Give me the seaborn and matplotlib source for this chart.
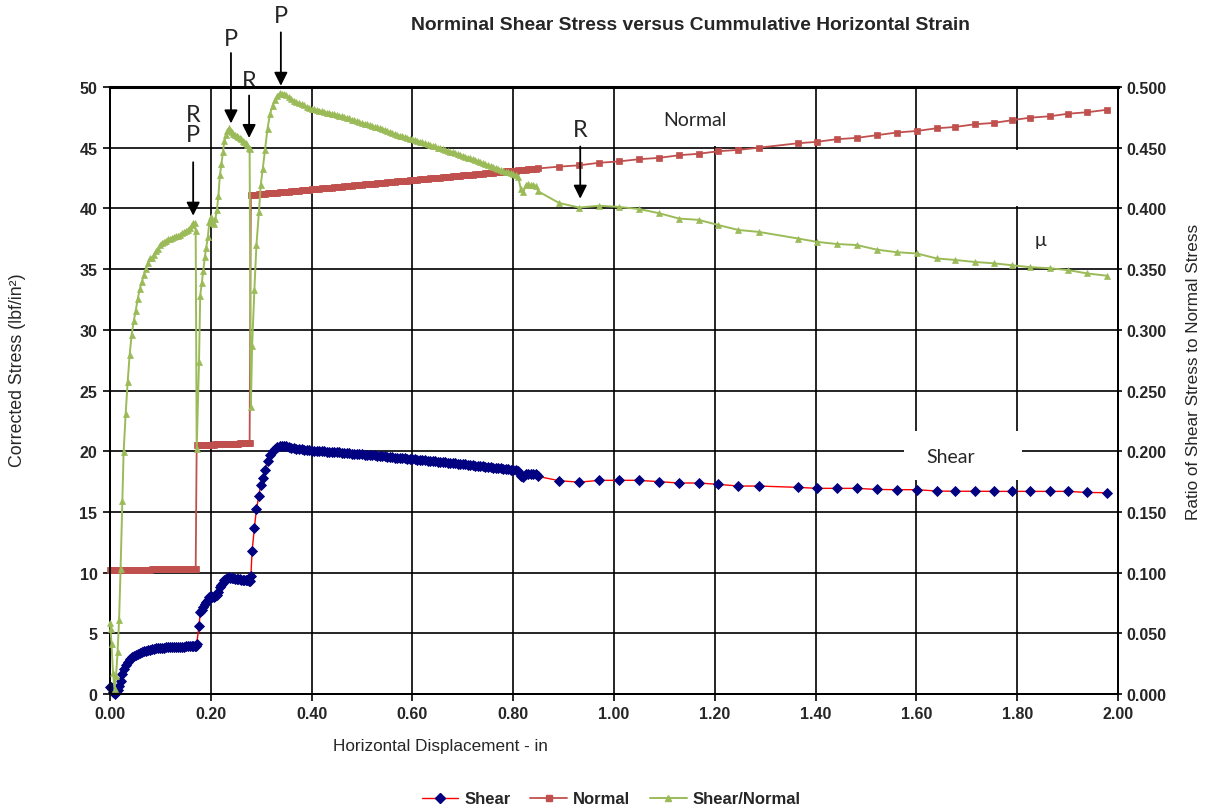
import matplotlib
matplotlib.use("Agg")
import matplotlib.pyplot as plt
from matplotlib.lines import Line2D
from matplotlib.patches import Rectangle
from matplotlib.ticker import FormatStrFormatter
import numpy as np
import pandas as pd
import seaborn as sns

# ---------------------------------------------------------------- data
# Stage 1: normal load ~10 lbf/in^2
disp_1 = [0.000, 0.001, 0.003, 0.006, 0.009, 0.012, 0.015, 0.018, 0.021, 0.0245,
          0.027, 0.031, 0.035, 0.039, 0.043, 0.047, 0.051, 0.055, 0.059, 0.063,
          0.067, 0.071, 0.075, 0.079, 0.083, 0.087, 0.091, 0.095, 0.099, 0.103,
          0.107, 0.111, 0.115, 0.119, 0.123, 0.127, 0.131, 0.135, 0.139, 0.143,
          0.147, 0.151, 0.155, 0.159, 0.162, 0.165, 0.168, 0.170]
shear_1 = [0.60, 0.55, 0.42, 0.18, 0.04, 0.15, 0.35, 0.62, 1.05, 1.62,
           2.03, 2.35, 2.62, 2.85, 3.02, 3.13, 3.22, 3.32, 3.40, 3.46,
           3.52, 3.57, 3.62, 3.66, 3.69, 3.72, 3.75, 3.77, 3.80, 3.82,
           3.83, 3.84, 3.85, 3.85, 3.86, 3.87, 3.88, 3.88, 3.89, 3.90,
           3.91, 3.92, 3.93, 3.95, 3.97, 3.99, 3.99, 3.92]
normal_1 = [10.20, 10.20, 10.20, 10.20, 10.20, 10.20, 10.20, 10.20, 10.20, 10.20,
            10.20, 10.20, 10.20, 10.20, 10.20, 10.20, 10.20, 10.20, 10.20, 10.20,
            10.20, 10.20, 10.20, 10.20, 10.28, 10.28, 10.28, 10.28, 10.28, 10.28,
            10.28, 10.28, 10.28, 10.28, 10.28, 10.28, 10.28, 10.28, 10.28, 10.28,
            10.28, 10.28, 10.28, 10.28, 10.28, 10.28, 10.28, 10.28]

# Stage 2: normal load ~20.5 lbf/in^2
disp_2 = [0.172, 0.1766, 0.179, 0.182, 0.185, 0.188, 0.191, 0.194, 0.197, 0.200,
          0.203, 0.206, 0.209, 0.212, 0.215, 0.218, 0.221, 0.224, 0.227, 0.230,
          0.233, 0.236, 0.239, 0.242, 0.245, 0.248, 0.251, 0.254, 0.257, 0.260,
          0.263, 0.266, 0.269, 0.272, 0.275, 0.277]
shear_2 = [4.14, 5.60, 6.73, 6.94, 7.15, 7.38, 7.55, 7.72, 7.98, 8.07,
           7.97, 7.95, 8.05, 8.19, 8.43, 8.79, 8.98, 9.18, 9.38, 9.48,
           9.55, 9.60, 9.58, 9.54, 9.52, 9.50, 9.48, 9.46, 9.45, 9.43,
           9.41, 9.39, 9.37, 9.35, 9.30, 9.28]
normal_2 = [20.50, 20.50, 20.51, 20.51, 20.52, 20.52, 20.53, 20.53, 20.54, 20.54,
            20.55, 20.55, 20.56, 20.56, 20.57, 20.57, 20.58, 20.58, 20.59, 20.59,
            20.60, 20.60, 20.61, 20.61, 20.62, 20.62, 20.63, 20.63, 20.64, 20.64,
            20.65, 20.65, 20.66, 20.66, 20.67, 20.67]

# Stage 3: normal load ~41 lbf/in^2, rising with area correction
disp_3 = [0.2795, 0.282, 0.2865, 0.2905, 0.2955, 0.299, 0.303, 0.3075, 0.3125, 0.3175,
          0.3225, 0.327, 0.332, 0.337, 0.341,
          0.345, 0.350, 0.355, 0.360, 0.365, 0.370, 0.375, 0.380, 0.385, 0.390,
          0.395, 0.400, 0.405, 0.410, 0.415, 0.420, 0.425, 0.430, 0.435, 0.440,
          0.445, 0.450, 0.455, 0.460, 0.465, 0.470, 0.475, 0.480, 0.485, 0.490,
          0.495, 0.500, 0.505, 0.510, 0.515, 0.520, 0.525, 0.530, 0.535, 0.540,
          0.545, 0.550, 0.555, 0.560, 0.565, 0.570, 0.575, 0.580, 0.585, 0.590,
          0.595, 0.600, 0.605, 0.610, 0.615, 0.620, 0.625, 0.630, 0.635, 0.640,
          0.645, 0.650, 0.655, 0.660, 0.665, 0.670, 0.675, 0.680, 0.685, 0.690,
          0.695, 0.700, 0.705, 0.710, 0.715, 0.720, 0.725, 0.730, 0.735, 0.740,
          0.745, 0.750, 0.755, 0.760, 0.765, 0.770, 0.775, 0.780, 0.785, 0.790,
          0.795, 0.800, 0.805, 0.810, 0.815, 0.820, 0.825, 0.830, 0.835, 0.840,
          0.845, 0.850]
shear_3 = [9.72, 11.80, 13.70, 15.20, 16.35, 17.25, 17.80, 18.45, 19.20, 19.70,
           20.00, 20.20, 20.35, 20.45, 20.44,
           20.43, 20.40, 20.34, 20.30, 20.25, 20.22, 20.18, 20.16, 20.12, 20.08,
           20.06, 20.03, 20.02, 20.01, 19.99, 20.00, 19.98, 19.96, 19.97, 19.94,
           19.93, 19.92, 19.90, 19.89, 19.88, 19.85, 19.84, 19.81, 19.80, 19.77,
           19.75, 19.73, 19.72, 19.70, 19.69, 19.66, 19.65, 19.63, 19.62, 19.60,
           19.58, 19.54, 19.52, 19.49, 19.47, 19.45, 19.43, 19.41, 19.40, 19.38,
           19.36, 19.34, 19.33, 19.30, 19.29, 19.27, 19.25, 19.22, 19.21, 19.19,
           19.17, 19.14, 19.13, 19.10, 19.08, 19.06, 19.04, 19.02, 19.00, 18.98,
           18.96, 18.94, 18.92, 18.89, 18.87, 18.85, 18.82, 18.80, 18.78, 18.75,
           18.72, 18.70, 18.68, 18.65, 18.62, 18.60, 18.58, 18.55, 18.52, 18.50,
           18.48, 18.46, 18.42, 18.38, 17.95, 17.85, 18.10, 18.16, 18.12, 18.15,
           18.10, 17.92]
normal_3 = [41.10, 41.11, 41.12, 41.14, 41.16, 41.17, 41.19, 41.21, 41.23, 41.24,
            41.26, 41.28, 41.30, 41.32, 41.33,
            41.35, 41.37, 41.39, 41.41, 41.43, 41.45, 41.47, 41.49, 41.50, 41.52,
            41.54, 41.56, 41.58, 41.60, 41.62, 41.64, 41.66, 41.68, 41.70, 41.72,
            41.74, 41.75, 41.77, 41.79, 41.81, 41.83, 41.85, 41.87, 41.89, 41.91,
            41.93, 41.95, 41.97, 41.99, 42.00, 42.02, 42.04, 42.06, 42.08, 42.10,
            42.12, 42.14, 42.16, 42.18, 42.20, 42.22, 42.24, 42.25, 42.27, 42.29,
            42.31, 42.33, 42.35, 42.37, 42.39, 42.41, 42.43, 42.45, 42.47, 42.49,
            42.50, 42.52, 42.54, 42.56, 42.58, 42.60, 42.62, 42.64, 42.66, 42.68,
            42.70, 42.72, 42.74, 42.75, 42.77, 42.79, 42.81, 42.83, 42.85, 42.87,
            42.89, 42.91, 42.93, 42.95, 42.97, 43.00, 43.01, 43.02, 43.04, 43.06,
            43.08, 43.10, 43.12, 43.14, 43.16, 43.18, 43.20, 43.22, 43.24, 43.25,
            43.27, 43.29]

# Residual stage, logged at a coarser interval
disp_4 = [0.891, 0.931, 0.971, 1.010, 1.049, 1.089, 1.129, 1.168, 1.207, 1.247,
          1.287, 1.366, 1.402, 1.442, 1.482, 1.521, 1.561, 1.601, 1.640, 1.677,
          1.716, 1.753, 1.789, 1.825, 1.865, 1.901, 1.939, 1.979]
shear_4 = [17.57, 17.45, 17.60, 17.60, 17.60, 17.49, 17.38, 17.38, 17.27, 17.13,
           17.13, 17.02, 16.94, 16.94, 16.94, 16.85, 16.83, 16.83, 16.72, 16.70,
           16.70, 16.69, 16.69, 16.69, 16.69, 16.69, 16.60, 16.58]
normal_4 = [43.44, 43.55, 43.76, 43.87, 44.05, 44.16, 44.38, 44.50, 44.71, 44.82,
            45.00, 45.37, 45.48, 45.70, 45.81, 46.03, 46.25, 46.38, 46.60, 46.71,
            46.93, 47.04, 47.26, 47.47, 47.59, 47.80, 47.92, 48.13]

x_ticks = [0.00, 0.20, 0.40, 0.60, 0.80, 1.00, 1.20, 1.40, 1.60, 1.80, 2.00]
stress_ticks = [0, 5, 10, 15, 20, 25, 30, 35, 40, 45, 50]
ratio_ticks = [0.000, 0.050, 0.100, 0.150, 0.200, 0.250, 0.300, 0.350, 0.400, 0.450, 0.500]

# peak (P) and residual (R) markers: (label, displacement, arrow tip, arrow tail, text y)
peak_marks = [
    ("R\nP", 0.165, 39.4, 43.8, 46.9),
    ("P", 0.240, 47.0, 52.8, 54.0),
    ("R", 0.276, 45.8, 49.3, 50.5),
    ("P", 0.339, 50.1, 54.5, 55.9),
    ("R", 0.933, 40.8, 45.1, 46.5),
]

df = pd.DataFrame({
    "disp": disp_1 + disp_2 + disp_3 + disp_4,
    "shear": shear_1 + shear_2 + shear_3 + shear_4,
    "normal": normal_1 + normal_2 + normal_3 + normal_4,
})
df["ratio"] = df["shear"] / df["normal"]

# ---------------------------------------------------------------- style
sns.set_theme(style="white")
plt.rcParams["font.family"] = ["Liberation Sans", "DejaVu Sans"]
ANNOT_FONT = ["Lato", "DejaVu Sans"]

C_SHEAR_LINE = "#FF0000"
C_SHEAR_MARK = "#000080"
C_NORMAL = "#C0504D"
C_RATIO = "#9BBB59"

W, H = 1208, 812
fig = plt.figure(figsize=(W / 100, H / 100), dpi=100)
fig.patch.set_facecolor("white")
ax = fig.add_axes([110 / W, 1 - 695 / H, 1008 / W, 607 / H])
ax2 = ax.twinx()

common = dict(estimator=None, sort=False, clip_on=False, legend=False)

sns.lineplot(data=df, x="disp", y="shear", ax=ax, color=C_SHEAR_LINE, lw=1.0,
             marker="D", markersize=5.0, markerfacecolor=C_SHEAR_MARK,
             markeredgecolor=C_SHEAR_MARK, markeredgewidth=0.6, zorder=3, **common)
sns.lineplot(data=df, x="disp", y="normal", ax=ax, color=C_NORMAL, lw=1.3,
             marker="s", markersize=4.0, markerfacecolor=C_NORMAL,
             markeredgecolor=C_NORMAL, markeredgewidth=0.5, zorder=4, **common)
sns.lineplot(data=df, x="disp", y="ratio", ax=ax2, color=C_RATIO, lw=1.4,
             marker="^", markersize=5.0, markerfacecolor=C_RATIO,
             markeredgecolor=C_RATIO, markeredgewidth=0.5, zorder=5, **common)

# ---------------------------------------------------------------- axes
ax.set_xlim(0, 2.0)
ax.set_ylim(0, 50)
ax2.set_ylim(0, 0.5)
ax.set_xticks(x_ticks)
ax.set_yticks(stress_ticks)
ax2.set_yticks(ratio_ticks)
ax.xaxis.set_major_formatter(FormatStrFormatter("%.2f"))
ax2.yaxis.set_major_formatter(FormatStrFormatter("%.3f"))

ax.set_axisbelow(True)
ax.grid(True, color="black", lw=1.2)
for a in (ax, ax2):
    for s in a.spines.values():
        s.set_color("black")
        s.set_linewidth(1.4)
ax.spines["top"].set_linewidth(2.2)

ax.tick_params(axis="both", which="major", direction="out", length=5, width=1.2,
               color="black", labelsize=11.5, pad=4, bottom=True, left=True)
ax2.tick_params(axis="y", direction="out", length=3, width=1.2, color="black",
                labelsize=11.5, pad=3, right=True)
for lab in ax.get_xticklabels() + ax.get_yticklabels() + ax2.get_yticklabels():
    lab.set_fontweight("bold")

ax.set_xlabel("")
ax.set_ylabel("")
ax2.set_ylabel("")

fig.text(440 / W, 1 - 747 / H, "Horizontal Displacement - in", ha="center", va="center",
         fontsize=12.3)
fig.text(18 / W, 1 - 370 / H, "Corrected Stress (lbf/in²)", ha="center", va="center",
         rotation=90, fontsize=12.8)
fig.text(1194 / W, 1 - 372 / H, "Ratio of Shear Stress to Normal Stress", ha="center",
         va="center", rotation=90, fontsize=12.3)
fig.text(691 / W, 1 - 25 / H, "Norminal Shear Stress versus Cummulative Horizontal Strain",
         ha="center", va="center", fontsize=13.9, fontweight="bold")

# ---------------------------------------------------------------- text boxes
boxes = [
    (1.02, 45.15, 0.35, 4.85),   # behind "Normal"
    (1.76, 40.2, 0.09, 4.6),     # behind the curve label near mu
    (1.575, 17.6, 0.235, 4.1),   # behind "Shear"
]
for bx, by, bw, bh in boxes:
    ax.add_patch(Rectangle((bx, by), bw, bh, facecolor="white", edgecolor="none",
                           zorder=1.5))

ax.text(1.161, 47.3, "Normal", ha="center", va="center", fontsize=14,
        family=ANNOT_FONT, zorder=6)
ax.text(1.667, 19.6, "Shear", ha="center", va="center", fontsize=14,
        family=ANNOT_FONT, zorder=6)
ax.text(1.847, 37.4, "μ", ha="center", va="center", fontsize=14,
        family=ANNOT_FONT, zorder=6)

# ---------------------------------------------------------------- P / R arrows
for label, xm, tip, tail, ty in peak_marks:
    ax.annotate("", xy=(xm, tip), xytext=(xm, tail), annotation_clip=False,
                arrowprops=dict(arrowstyle="-|>", color="black", lw=1.3,
                                mutation_scale=20, shrinkA=0, shrinkB=0),
                zorder=7)
    ax.text(xm, ty, label, ha="center", va="center", fontsize=17,
            family=ANNOT_FONT, linespacing=0.9, clip_on=False, zorder=7)

# ---------------------------------------------------------------- legend
handles = [
    Line2D([], [], color=C_SHEAR_LINE, lw=1.0, marker="D", markersize=5,
           markerfacecolor=C_SHEAR_MARK, markeredgecolor=C_SHEAR_MARK),
    Line2D([], [], color=C_NORMAL, lw=1.3, marker="s", markersize=4,
           markerfacecolor=C_NORMAL, markeredgecolor=C_NORMAL),
    Line2D([], [], color=C_RATIO, lw=1.4, marker="^", markersize=5,
           markerfacecolor=C_RATIO, markeredgecolor=C_RATIO),
]
leg = fig.legend(handles, ["Shear", "Normal", "Shear/Normal"], loc="center",
                 bbox_to_anchor=(611 / W, 1 - 800 / H), ncol=3, frameon=False,
                 handlelength=2.2, handletextpad=0.35, columnspacing=1.2,
                 prop=dict(size=12, weight="bold"))

fig.savefig("out.png", dpi=100, facecolor="white")
